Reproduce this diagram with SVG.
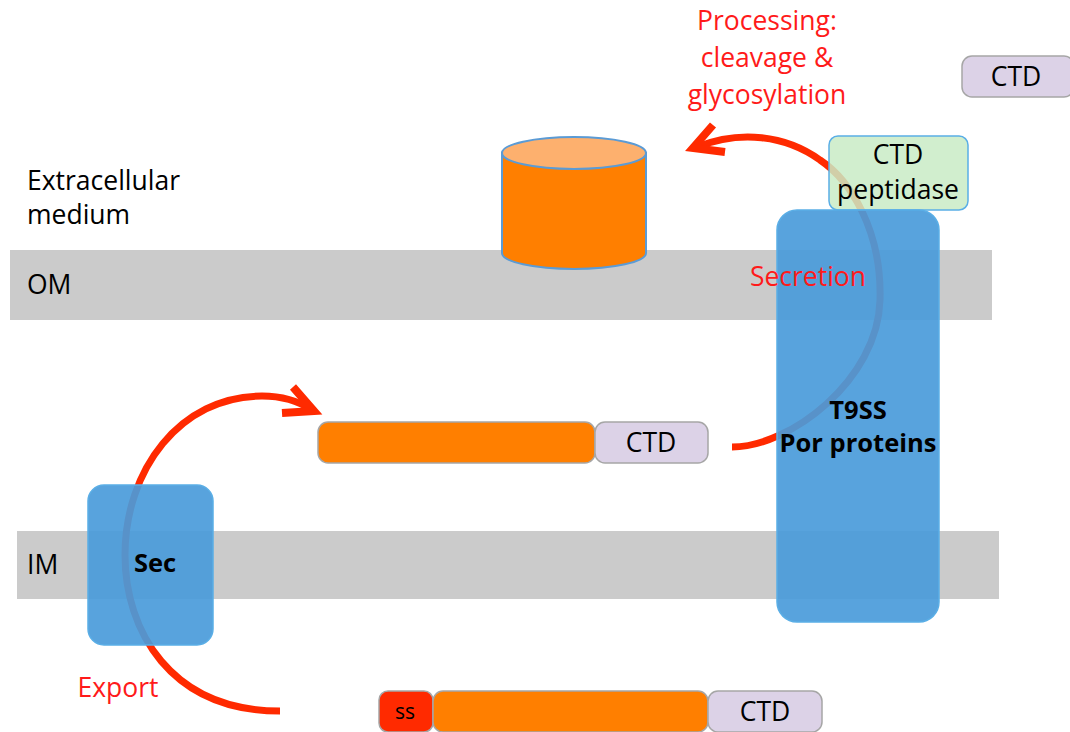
<svg xmlns="http://www.w3.org/2000/svg" width="1070" height="732" viewBox="0 0 1070 732">
<style>
text{font-family:"Open Sans",Lato,"Liberation Sans",sans-serif;fill:#000}
.lbl{font-size:26.5px}
.red{fill:#ff1a1a}
.b{font-weight:bold;font-size:25.5px}
.band{fill:#cbcbcb}
.prot{fill:#ff7f00;stroke:#a6a6a6;stroke-width:1.5}
.ctd{fill:#dcd2e7;stroke:#a6a6a6;stroke-width:1.5}
.ss{fill:#ff2a00;stroke:#a6a6a6;stroke-width:1.5}
.blue{fill:#4a9bda;fill-opacity:0.92;stroke:#5aaee6;stroke-width:1.5}
.arr{fill:none;stroke:#ff2a00;stroke-width:7;stroke-linecap:butt}
.head{fill:none;stroke:#ff2a00;stroke-width:8;stroke-linejoin:miter;stroke-linecap:butt}
</style>
<rect width="1070" height="732" fill="#fff"/>
<g id="membranes">
<rect id="OM" class="band" x="10" y="250" width="982" height="70"/>
<rect id="IM" class="band" x="17" y="531" width="982" height="68"/>
<text class="lbl" x="27" y="294">OM</text>
<text class="lbl" x="27" y="574">IM</text>
<text class="lbl" x="27" y="190">Extracellular</text>
<text class="lbl" x="27" y="224">medium</text>
</g>
<g id="connectors">
<path class="arr" d="M 280 711 C 170 711, 125 630, 125 555 C 125 470, 180 396, 262 396 C 282 396, 300 402, 312 410"/>
<path class="head" d="M 293 387 L 314 411 L 282 413"/>
<path class="arr" d="M 732 447 C 790 447, 878 380, 880 300 C 882 230, 850 180, 820 160 C 785 135, 740 130, 697 147"/>
<path class="head" d="M 713 125 L 693 148 L 725 152"/>
</g>
<g id="cylinder">
<path d="M 502 153 L 502 253 A 72 16 0 0 0 646 253 L 646 153 Z" fill="#ff7f00" stroke="#5b9bd5" stroke-width="2"/>
<ellipse cx="574" cy="153" rx="72" ry="16" fill="#fdb06e" stroke="#5b9bd5" stroke-width="2"/>
</g>
<g id="peptidase">
<rect x="829" y="136" width="139" height="74" rx="9" fill="#c9ebc6" fill-opacity="0.85" stroke="#5aaee6" stroke-width="1.5"/>
<text class="lbl" x="898" y="164" text-anchor="middle">CTD</text>
<text class="lbl" x="898" y="199" text-anchor="middle">peptidase</text>
</g>
<g id="T9SS">
<rect class="blue" x="777" y="210" width="162" height="412" rx="20"/>
<text class="lbl b" x="858" y="419" text-anchor="middle">T9SS</text>
<text class="lbl b" x="858" y="452" text-anchor="middle">Por proteins</text>
</g>
<g id="Sec">
<rect class="blue" x="88" y="485" width="125" height="160" rx="16"/>
<text class="lbl b" x="155" y="572" text-anchor="middle">Sec</text>
</g>
<g id="labels">
<text class="lbl red" x="767" y="30" text-anchor="middle">Processing:</text>
<text class="lbl red" x="767" y="67" text-anchor="middle">cleavage &amp;</text>
<text class="lbl red" x="767" y="104" text-anchor="middle">glycosylation</text>
<text class="lbl red" x="808" y="286" text-anchor="middle">Secretion</text>
<text class="lbl red" x="118" y="697" text-anchor="middle">Export</text>
</g>
<g id="protein-mid">
<rect class="prot" x="318" y="422" width="277" height="41" rx="10"/>
<rect class="ctd" x="595" y="422" width="113" height="41" rx="10"/>
<text class="lbl" x="651" y="452" text-anchor="middle">CTD</text>
</g>
<g id="protein-bottom">
<rect class="ss" x="379" y="691" width="54" height="41" rx="9"/>
<rect class="prot" x="433" y="691" width="275" height="41" rx="10"/>
<rect class="ctd" x="708" y="691" width="114" height="41" rx="10"/>
<text x="405" y="719" text-anchor="middle" font-size="21">ss</text>
<text class="lbl" x="765" y="721" text-anchor="middle">CTD</text>
</g>
<g id="ctd-free">
<rect class="ctd" x="962" y="56" width="112" height="41" rx="10"/>
<text class="lbl" x="1016" y="86" text-anchor="middle">CTD</text>
</g>
</svg>
